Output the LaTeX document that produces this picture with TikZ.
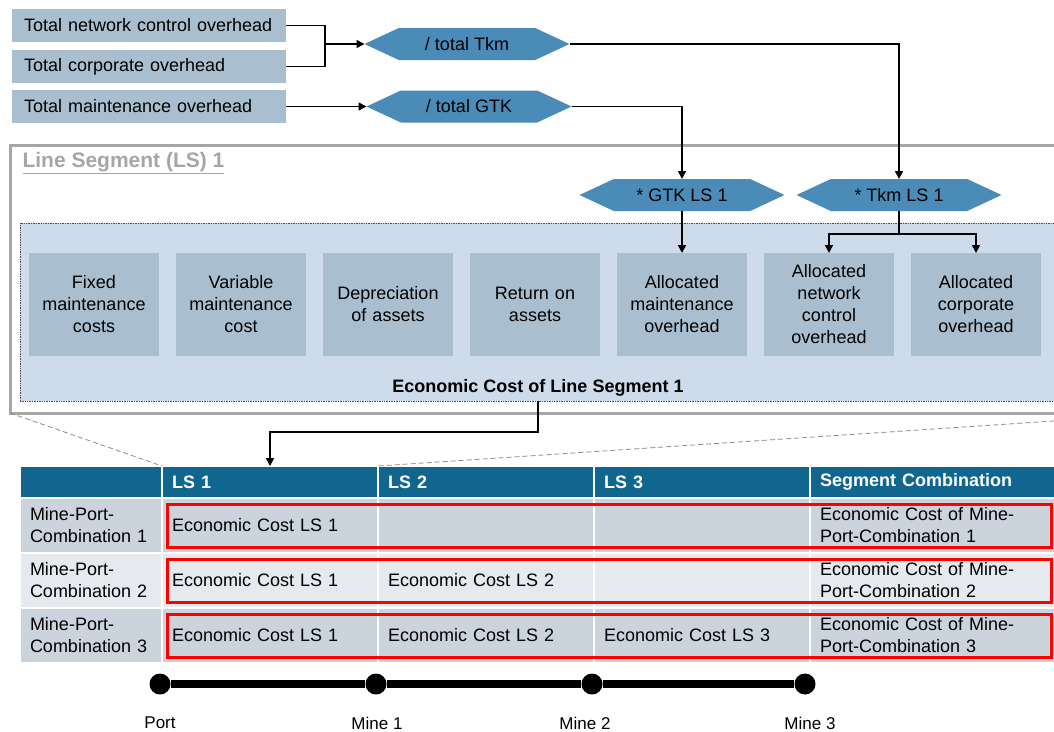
\documentclass[tikz,border=0pt]{standalone}
\usepackage{fontspec}
\setmainfont{Liberation Sans}
\usepackage{xcolor}
\usepackage{tikz}
\usetikzlibrary{arrows.meta, shapes.symbols, fit, positioning}
\definecolor{custom_gray}{HTML}{A9BFCF}
\definecolor{custom_hex}{HTML}{4B8BB8}
\definecolor{custom_panel}{HTML}{CEDBEA}
\definecolor{custom_frame}{HTML}{A6A6A6}
\definecolor{custom_head}{HTML}{11668F}
\definecolor{custom_rowdark}{HTML}{CBD3DD}
\definecolor{custom_rowlight}{HTML}{E6E9EE}
\definecolor{custom_red}{HTML}{FF0000}
\newcommand{\bodysize}{\fontsize{18}{22}\selectfont}

\begin{document}
\begin{tikzpicture}[x=1pt, y=-1pt, >={Triangle[length=8pt, width=8pt]},
  every node/.style={font=\bodysize},
  flow/.style={line width=1.6pt},
  inbox/.style={fill=custom_gray, anchor=north west, minimum height=33pt, inner xsep=12pt, text width=250pt, align=left, outer sep=0pt},
  hexbox/.style={signal, signal to=west and east, signal pointer angle=50, fill=custom_hex, minimum width=205pt, minimum height=32pt, inner sep=0pt, outer sep=0pt},
  costbox/.style={fill=custom_gray, anchor=north west, minimum width=130pt, minimum height=103pt, text width=126pt, inner sep=2pt, align=center, outer sep=0pt},
  cell/.style={draw=white, line width=2pt, anchor=north west, inner xsep=10pt, inner ysep=0pt, minimum height=55pt, align=left, outer sep=0pt},
  headcell/.style={cell, fill=custom_head, minimum height=32pt, text=white, font=\bodysize\bfseries},
  rowbox/.style={draw=custom_red, line width=3pt, inner xsep=-5pt, inner ysep=-6pt},
  zoomline/.style={draw=black!45, line width=0.8pt, dash pattern=on 5pt off 3pt},
  station/.style={circle, fill=black, minimum size=21pt, inner sep=0pt}]

  \useasboundingbox (0,0) rectangle (1054,731);
  \clip (0,0) rectangle (1054,731);

  % overhead totals and the two divisors
  \node[inbox] (tnc) at (12,9) {Total network control overhead};
  \node[inbox] (tco) at (12,50) {Total corporate overhead};
  \node[inbox] (tmo) at (12,90) {Total maintenance overhead};

  \node[hexbox] (tkm) at (467,44) {/ total Tkm};
  \node[hexbox] (gtk) at (469,106.5) {/ total GTK};

  \coordinate (join) at (325,44);
  \draw[flow] (tnc.east) -| (join);
  \draw[flow] (tco.east) -| (join);
  \draw[flow, ->] (join) -- (tkm.west);
  \draw[flow, ->] (tmo.east) -- (gtk.west);

  % line segment frame
  \node[draw=custom_frame, line width=3pt, anchor=north west, minimum width=1164pt, minimum height=268pt, outer sep=0pt] (frame) at (10,145) {};
  \node[anchor=west, text=custom_frame, font=\fontsize{21}{25}\selectfont\bfseries] (title) at (19,163) {\underline{Line Segment (LS) 1}};

  \node[fill=custom_panel, draw=black!70, densely dotted, line width=0.7pt, anchor=north west, minimum width=1100pt, minimum height=178pt, outer sep=0pt] (panel) at (20,223) {};

  \node[hexbox] (gtkls) at (682,195) {* GTK LS 1};
  \node[hexbox] (tkmls) at (899,195) {* Tkm LS 1};

  \node[costbox] (fmc) at (29,253) {Fixed\\maintenance\\costs};
  \node[costbox] (vmc) at (176,253) {Variable\\maintenance\\cost};
  \node[costbox] (dep) at (323,253) {Depreciation\\of assets};
  \node[costbox] (roa) at (470,253) {Return on\\assets};
  \node[costbox] (amo) at (617,253) {Allocated\\maintenance\\overhead};
  \node[costbox] (anc) at (764,253) {Allocated\\network\\control\\overhead};
  \node[costbox] (aco) at (911,253) {Allocated\\corporate\\overhead};

  \node[font=\bodysize\bfseries] (ecl) at (538,388) {Economic Cost of Line Segment 1};

  \draw[flow, ->] (tkm.east) -| (tkmls.north);
  \draw[flow, ->] (gtk.east) -| (gtkls.north);
  \draw[flow, ->] (gtkls.south) -- (amo.north);
  \coordinate (split) at (899,234);
  \draw[flow] (tkmls.south) -- (split);
  \draw[flow, ->] (split) -| (anc.north);
  \draw[flow, ->] (split) -| (aco.north);

  % combination table
  \node[headcell, text width=122pt] (h0) at (20,466) {};
  \node[headcell, text width=196pt] (h1) at (162,466) {LS 1};
  \node[headcell, text width=196pt] (h2) at (378,466) {LS 2};
  \node[headcell, text width=196pt] (h3) at (594,466) {LS 3};
  \node[headcell, text width=226pt] (h4) at (810,466) {Segment Combination};

  \node[cell, fill=custom_rowdark, text width=122pt] (r1c0) at (20,498) {Mine-Port-\\Combination 1};
  \node[cell, fill=custom_rowdark, text width=196pt] (r1c1) at (162,498) {Economic Cost LS 1};
  \node[cell, fill=custom_rowdark, text width=196pt] (r1c2) at (378,498) {};
  \node[cell, fill=custom_rowdark, text width=196pt] (r1c3) at (594,498) {};
  \node[cell, fill=custom_rowdark, text width=226pt] (r1c4) at (810,498) {Economic Cost of Mine-\\Port-Combination 1};

  \node[cell, fill=custom_rowlight, text width=122pt] (r2c0) at (20,553) {Mine-Port-\\Combination 2};
  \node[cell, fill=custom_rowlight, text width=196pt] (r2c1) at (162,553) {Economic Cost LS 1};
  \node[cell, fill=custom_rowlight, text width=196pt] (r2c2) at (378,553) {Economic Cost LS 2};
  \node[cell, fill=custom_rowlight, text width=196pt] (r2c3) at (594,553) {};
  \node[cell, fill=custom_rowlight, text width=226pt] (r2c4) at (810,553) {Economic Cost of Mine-\\Port-Combination 2};

  \node[cell, fill=custom_rowdark, text width=122pt] (r3c0) at (20,608) {Mine-Port-\\Combination 3};
  \node[cell, fill=custom_rowdark, text width=196pt] (r3c1) at (162,608) {Economic Cost LS 1};
  \node[cell, fill=custom_rowdark, text width=196pt] (r3c2) at (378,608) {Economic Cost LS 2};
  \node[cell, fill=custom_rowdark, text width=196pt] (r3c3) at (594,608) {Economic Cost LS 3};
  \node[cell, fill=custom_rowdark, text width=226pt] (r3c4) at (810,608) {Economic Cost of Mine-\\Port-Combination 3};

  \node[rowbox, fit=(r1c1)(r1c4)] (sum1) {};
  \node[rowbox, fit=(r2c1)(r2c4)] (sum2) {};
  \node[rowbox, fit=(r3c1)(r3c4)] (sum3) {};

  \draw[zoomline] (frame.south west) -- (h1.north west);
  \draw[zoomline] (frame.south east) -- (h2.north west);

  \coordinate (bend) at (538,432);
  \draw[flow, ->] (ecl |- panel.south) -- (bend) -| (h1.north);

  % the line itself
  \node[station] (port) at (160,684) {};
  \node[station] (mine1) at (376,684) {};
  \node[station] (mine2) at (592,684) {};
  \node[station] (mine3) at (805,684) {};
  \draw[line width=7.5pt] (port) -- (mine1) -- (mine2) -- (mine3);

  \node[font=\fontsize{17}{20}\selectfont] (portlbl) at (160,723) {Port};
  \node[font=\fontsize{17}{20}\selectfont] (mine1lbl) at (377,723) {Mine 1};
  \node[font=\fontsize{17}{20}\selectfont] (mine2lbl) at (585,723) {Mine 2};
  \node[font=\fontsize{17}{20}\selectfont] (mine3lbl) at (810,723) {Mine 3};

\end{tikzpicture}
\end{document}
